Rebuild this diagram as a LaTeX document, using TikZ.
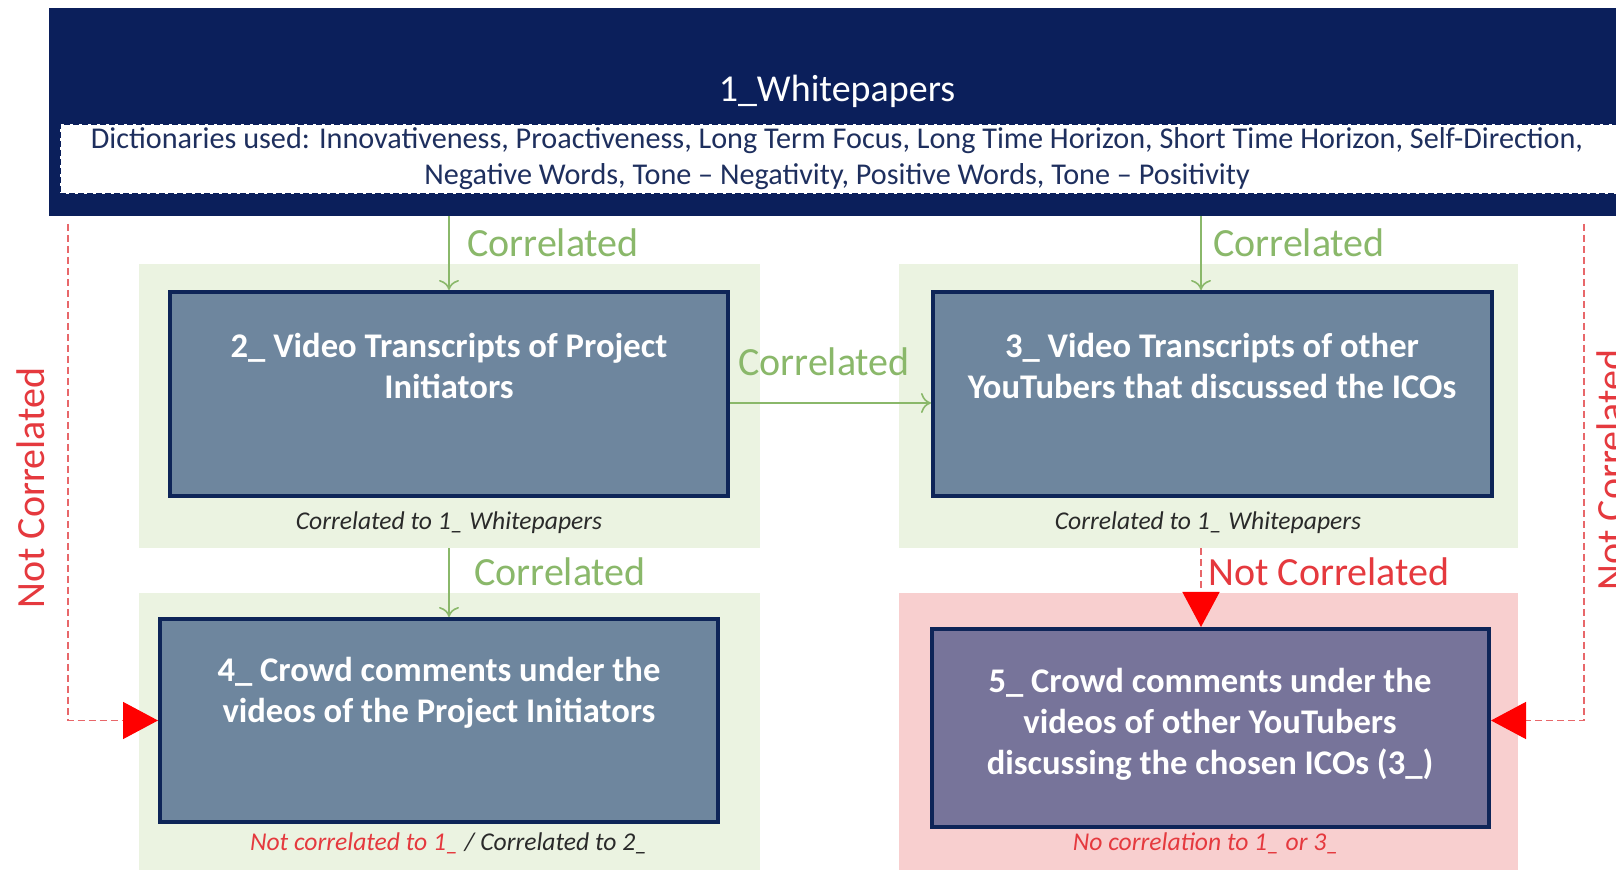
\documentclass[tikz,border=0pt]{standalone}
\usepackage{fontspec}
\setmainfont{Carlito}
\usetikzlibrary{arrows.meta,fit}

\definecolor{navy}{HTML}{0B1F5B}
\definecolor{boxfill}{HTML}{6E869E}
\definecolor{boxfillb}{HTML}{77749A}
\definecolor{boxline}{HTML}{0E2558}
\definecolor{panelgreen}{HTML}{EBF3E1}
\definecolor{panelpink}{HTML}{F8CFCF}
\definecolor{okgreen}{HTML}{8AB86A}
\definecolor{nored}{HTML}{E5393E}
\definecolor{dashred}{HTML}{E8676A}
\definecolor{dicttext}{HTML}{1E2F5E}
\definecolor{captext}{HTML}{2A2A2A}

\tikzset{
  panel/.style={inner sep=0pt, draw=none},
  stagebox/.style={inner sep=0pt, draw=boxline, line width=2pt},
  boxtext/.style={text=white, align=center, font=\fontsize{17.3}{20.5}\selectfont\bfseries},
  caption/.style={font=\fontsize{12.8}{15}\selectfont\itshape, text=captext},
  oklabel/.style={text=okgreen, font=\fontsize{20}{24}\selectfont, inner sep=0pt},
  nolabel/.style={text=nored, font=\fontsize{20}{24}\selectfont, inner sep=0pt},
  okarrow/.style={draw=okgreen, line width=0.8pt, -{To[length=5pt,width=10pt]}},
  noarrow/.style={draw=dashred, line width=0.7pt, dash pattern=on 3.5pt off 2pt,
    -{Triangle[length=17.5pt,width=18.5pt,fill=red,color=red]}},
}

\begin{document}
\begin{tikzpicture}[x=0.5pt,y=-0.5pt]
  \clip (0,0) rectangle (1616,870);
  \fill[white] (0,0) rectangle (1616,870);

  % header band with the dictionary strip
  \node[panel, fill=navy, fit={(49,8) (1650,216)}] (head) {};
  \node[text=white, font=\fontsize{19}{23}\selectfont] (t1) at (837,91) {1\_Whitepapers};
  \node[inner sep=0pt, fill=white, draw=navy, line width=1pt, dash pattern=on 3pt off 1.5pt,
        fit={(60,124) (1650,194)}] (dict) {};
  \node[text=dicttext, align=center, font=\fontsize{15.1}{18}\selectfont] (dt) at (837,159)
    {Dictionaries used: Innovativeness, Proactiveness, Long Term Focus, Long Time Horizon, Short Time Horizon, Self-Direction,\\
     Negative Words, Tone -- Negativity, Positive Words, Tone -- Positivity};

  % background panels
  \node[panel, fill=panelgreen, fit={(139,264) (760,548)}] (pA) {};
  \node[panel, fill=panelgreen, fit={(899,264) (1518,548)}] (pB) {};
  \node[panel, fill=panelgreen, fit={(139,593) (760,870)}] (pC) {};
  \node[panel, fill=panelpink, fit={(899,593) (1518,870)}] (pD) {};

  % stage boxes
  \node[stagebox, fill=boxfill, fit={(170,292) (728,496)}] (b2) {};
  \node[stagebox, fill=boxfill, fit={(933,292) (1492,496)}] (b3) {};
  \node[stagebox, fill=boxfill, fit={(160,619) (718,822)}] (b4) {};
  \node[stagebox, fill=boxfillb, fit={(932,629) (1489,827)}] (b5) {};

  \node[boxtext] (b2t) at (449,366) {2\_ Video Transcripts of Project\\Initiators};
  \node[boxtext] (b3t) at (1212,366) {3\_ Video Transcripts of other\\YouTubers that discussed the ICOs};
  \node[boxtext] (b4t) at (439,693) {4\_ Crowd comments under the\\videos of the Project Initiators};
  \node[boxtext] (b5t) at (1210,724) {5\_ Crowd comments under the\\videos of other YouTubers\\discussing the chosen ICOs (3\_)};

  % captions
  \node[caption] (c2) at (449,523) {Correlated to 1\_ Whitepapers};
  \node[caption] (c3) at (1208,523) {Correlated to 1\_ Whitepapers};
  \node[caption] (c4) at (449,843) {{\color{nored}Not correlated to 1\_} / Correlated to 2\_};
  \node[caption, text=nored] (c5) at (1206,843) {No correlation to 1\_ or 3\_};

  % correlated links
  \coordinate (x3) at (1201,0);
  \coordinate (hy) at (0,403);
  \draw[okarrow] (head.south -| b2.north) -- (b2.north);
  \draw[okarrow] (head.south -| x3) -- (b3.north -| x3);
  \draw[okarrow] (b2.east |- hy) -- (b3.west |- hy);
  \draw[okarrow] (pA.south -| b2.south) -- (b4.north -| b2.south);
  \node[oklabel] (l1) at (553,243) {Correlated};
  \node[oklabel] (l2) at (1299,243) {Correlated};
  \node[oklabel] (l3) at (824,362) {Correlated};
  \node[oklabel] (l4) at (560,572) {Correlated};

  % not-correlated links
  \coordinate (lx) at (68,224);
  \coordinate (rx) at (1584,224);
  \draw[noarrow] (lx) |- (b4.west);
  \draw[noarrow] (rx) |- (b5.east |- b4.west);
  \draw[noarrow] (pB.south -| x3) -- (b5.north -| x3);
  \node[nolabel] (l5) at (1329,572) {Not Correlated};
  \node[nolabel, rotate=90] (l6) at (31,488) {Not Correlated};
  \node[nolabel, rotate=90] (l7) at (1611,470) {Not Correlated};
\end{tikzpicture}
\end{document}
